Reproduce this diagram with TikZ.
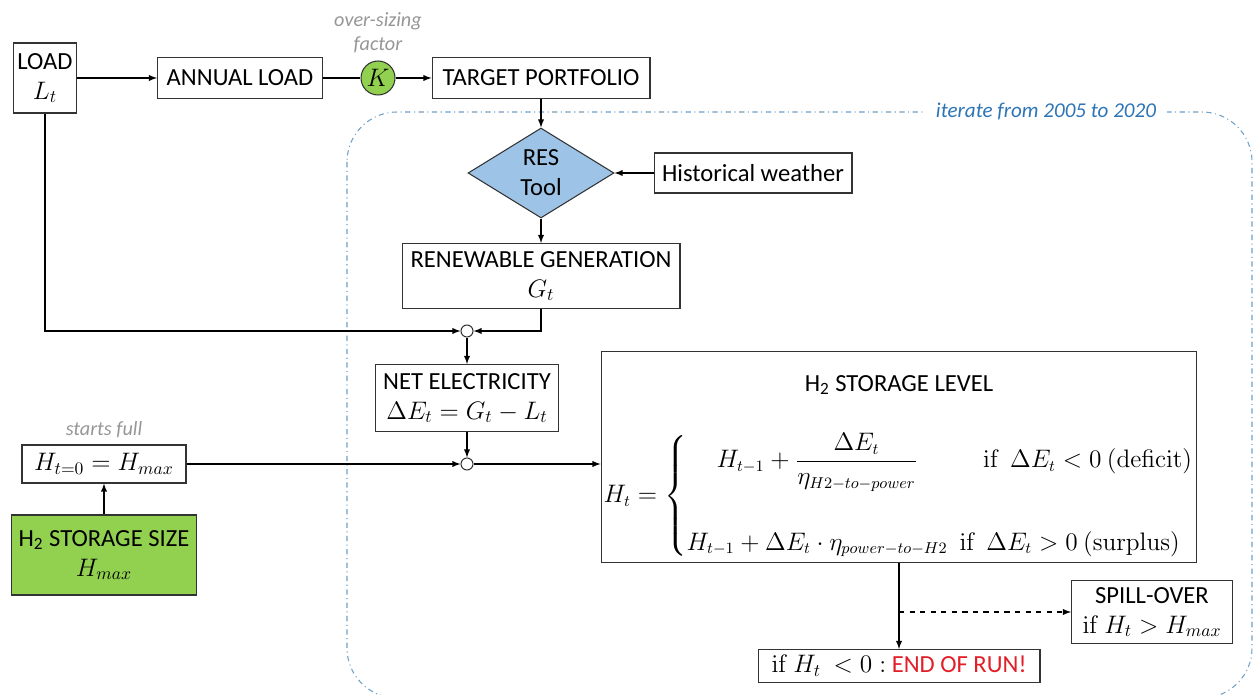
\documentclass[tikz,border=0pt]{standalone}
\usepackage{amsmath}
\usepackage[no-math]{fontspec}
\setmainfont{Carlito}
\usepackage{tikz}
\usetikzlibrary{shapes,positioning,calc}
\usetikzlibrary{shapes.geometric, arrows}
\usetikzlibrary{arrows.meta}
\definecolor{resblue}{RGB}{157,195,230}
\definecolor{storgreen}{RGB}{146,208,80}
\definecolor{loopblue}{RGB}{46,117,182}
\definecolor{loopline}{RGB}{110,160,200}
\definecolor{notegray}{RGB}{150,150,150}
\definecolor{stopred}{RGB}{226,30,38}
\tikzstyle{blocco} = [rectangle, draw=black!80, text centered, align=center, inner sep=2pt]
\tikzstyle{giunto} = [circle, draw=black!80, fill=white, minimum size=0.24cm, inner sep=0pt]
\tikzstyle{nota} = [text=notegray, font=\fontsize{11.5}{13.5}\selectfont\itshape, align=center]
\tikzstyle{arrow} = [->,>=latex]

\begin{document}
\begin{tikzpicture}[x=0.02cm, y=-0.02cm, line width=0.6pt, every node/.style={font=\fontsize{14}{17}\selectfont}]
	\useasboundingbox (0,0) rectangle (1257,695);
	\draw[loopline, dash dot, rounded corners=1cm] (347,112) rectangle (1252,698);
	\node (loop) at (1046,111) [fill=white, text=loopblue, font=\fontsize{12}{14}\selectfont\itshape, inner xsep=6pt] {iterate from 2005 to 2020};
	\node (load) at (45,78) [blocco, minimum width=1.12cm, minimum height=1.4cm] {LOAD\\$L_t$};
	\node (annual) at (240,78) [blocco, minimum width=3.3cm, minimum height=0.82cm] {ANNUAL LOAD};
	\node (k) at (378,78) [circle, draw=black!80, fill=storgreen, minimum size=0.68cm, inner sep=0pt] {$K$};
	\node (factor) at (378,33) [nota] {over-sizing\\factor};
	\node (target) at (541,78) [blocco, minimum width=4.36cm, minimum height=0.82cm] {TARGET PORTFOLIO};
	\node (res) at (541,173) [diamond, draw=black!80, fill=resblue, minimum width=2.92cm, minimum height=1.8cm, inner sep=0pt, aspect=1.6, align=center] {RES\\Tool};
	\node (weather) at (753,173) [blocco, minimum width=3.96cm, minimum height=0.8cm] {Historical weather};
	\node (renew) at (541,276) [blocco, minimum width=5.56cm, minimum height=1.3cm] {RENEWABLE GENERATION\\$G_t$};
	\node (j1) at (467,331) [giunto] {};
	\node (net) at (467,398) [blocco, minimum width=3.66cm, minimum height=1.34cm] {NET ELECTRICITY\\$\Delta E_t = G_t - L_t$};
	\node (j2) at (467,464) [giunto] {};
	\node (init) at (104,464) [blocco, minimum width=3.28cm, minimum height=0.76cm] {$H_{t=0} = H_{max}$};
	\node (full) at (104,430) [nota] {starts full};
	\node (size) at (104,555) [blocco, fill=storgreen, minimum width=3.7cm, minimum height=1.6cm] {H\textsubscript{2} STORAGE SIZE\\$H_{max}$};
	\node (level) at (899,457) [blocco, minimum width=11.92cm, minimum height=4.22cm] {};
	\node (leveltitle) at (899,385) {H\textsubscript{2} STORAGE LEVEL};
	\node (leveleq) at (899,496) [font=\fontsize{13.5}{17}\selectfont] {$H_t = \left\{\begin{array}{@{}c@{\enspace}l@{}}
		H_{t-1} + \dfrac{\Delta E_t}{\eta_{H2-to-power}} & \quad\mathrm{if}\ \ \Delta E_t < 0\ \mathrm{(deficit)} \\[30pt]
		H_{t-1} + \Delta E_t \cdot \eta_{power-to-H2} & \mathrm{if}\ \ \Delta E_t > 0\ \mathrm{(surplus)}
		\end{array}\right.$};
	\node (spill) at (1152,612) [blocco, minimum width=3.22cm, minimum height=1.26cm] {SPILL-OVER\\$\mathrm{if}\ H_t > H_{max}$};
	\node (stop) at (899,666) [blocco, minimum width=5.64cm, minimum height=0.66cm] {$\mathrm{if}\ H_t\ < 0:$ \textcolor{stopred}{END OF RUN!}};
	\coordinate (split) at (level.south |- spill.west);
	\draw[arrow] (load) -- (annual);
	\draw (annual) -- (k);
	\draw[arrow] (k) -- (target);
	\draw[arrow] (target) -- (res);
	\draw[arrow] (weather) -- (res);
	\draw[arrow] (res) -- (renew);
	\draw[arrow] (load.south) |- (j1);
	\draw[arrow] (renew.south) |- (j1);
	\draw[arrow] (j1) -- (net);
	\draw[arrow] (net) -- (j2);
	\draw[arrow] (init) -- (j2);
	\draw[arrow] (j2.east) -- (j2.east -| level.west);
	\draw[arrow] (size) -- (init);
	\draw[arrow] (level) -- (stop);
	\draw[arrow, dashed] (split) -- (spill);
\end{tikzpicture}
\end{document}
